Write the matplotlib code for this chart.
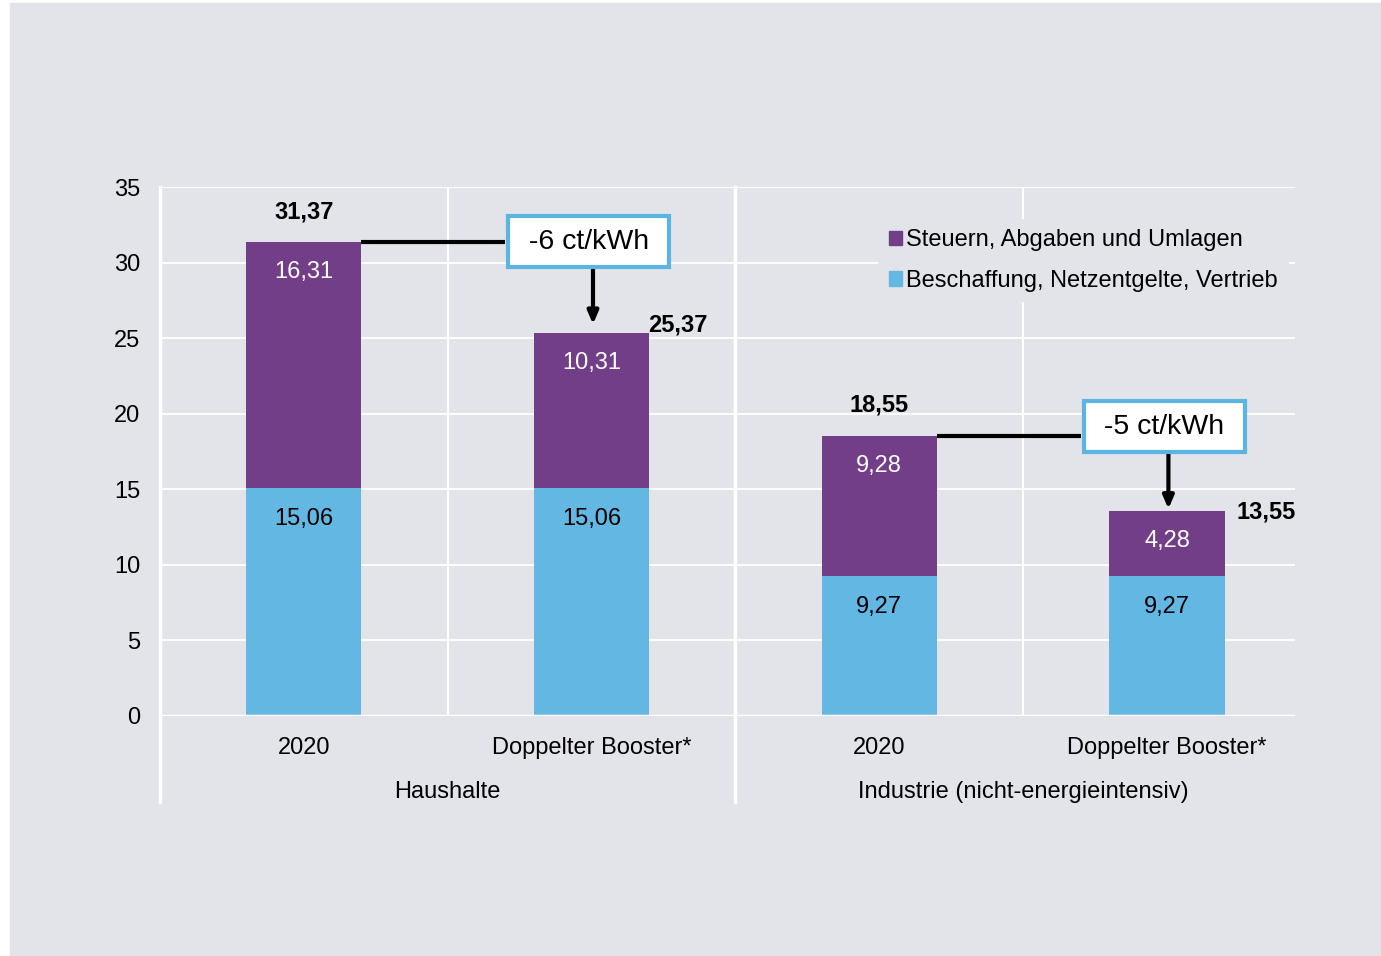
import matplotlib.pyplot as plt
from matplotlib.patches import Patch, Rectangle
from matplotlib.lines import Line2D

plt.rcParams['font.family'] = ['Liberation Sans', 'DejaVu Sans']

categories = ["2020", "Doppelter Booster*", "2020", "Doppelter Booster*"]
groups = ["Haushalte", "Industrie (nicht-energieintensiv)"]
beschaffung = [15.06, 15.06, 9.27, 9.27]
steuern = [16.31, 10.31, 9.28, 4.28]
totals = [31.37, 25.37, 18.55, 13.55]
savings = ["-6 ct/kWh", "-5 ct/kWh"]

purple = "#723e88"
blue = "#63b8e3"
bg = "#e3e4e9"
box_edge = "#5ab5e2"
fs = 17

fmt = lambda v: f"{v:.2f}".replace(".", ",")

fig = plt.figure(figsize=(13.81, 9.56), dpi=100)
fig.patch.set_facecolor("white")
fig.patches.append(Rectangle((10 / 1381, 0), 1 - 10 / 1381, 953 / 956,
                             transform=fig.transFigure, color=bg, zorder=-10))

ax = fig.add_axes([160 / 1381, 240 / 956, (1295 - 160) / 1381, 529 / 956])
ax.patch.set_alpha(0)
for s in ax.spines.values():
    s.set_visible(False)

x = list(range(len(categories)))
w = 0.4
ax.bar(x, beschaffung, width=w, color=blue, zorder=3)
ax.bar(x, steuern, width=w, bottom=beschaffung, color=purple, zorder=3)

ax.set_xlim(-0.5, 3.445)
ax.set_ylim(0, 35)
ax.set_yticks(range(0, 36, 5))
ax.tick_params(axis="y", length=0, pad=14, labelsize=fs)
ax.set_xticks(x)
ax.set_xticklabels(categories)
ax.tick_params(axis="x", length=0, pad=15, labelsize=fs)

for yv in range(5, 36, 5):
    ax.axhline(yv, color="white", lw=1.3, zorder=1)
ax.axhline(0, color="white", lw=2.5, zorder=4)
for xv in [0.5, 1.5, 2.5]:
    ax.axvline(xv, color="white", lw=1.5, zorder=1)

trans = ax.get_xaxis_transform()
ext = -(802 - 716) / 529
for xv in [-0.5, 1.5]:
    ax.add_line(Line2D([xv, xv], [1, ext], transform=trans, color="white",
                       lw=2.5, clip_on=False, zorder=1))

for i, g in enumerate(groups):
    ax.text(2 * i + 0.5, -(792 - 716) / 529, g, transform=trans, ha="center",
            va="center", fontsize=fs)

# segment labels
for i in x:
    ax.text(i, beschaffung[i] - 2.05, fmt(beschaffung[i]), ha="center",
            va="center", fontsize=fs, color="black", zorder=5)
    ax.text(i, totals[i] - 2.0, fmt(steuern[i]), ha="center", va="center",
            fontsize=fs, color="white", zorder=5)

# totals
booster_dx = [-0.005, 0.04]
booster_dy = [-0.26, -0.8]
for i in x:
    if i % 2 == 0:
        ax.text(i, totals[i] + 2.0, fmt(totals[i]), ha="center", va="center",
                fontsize=fs, fontweight="bold", zorder=5)
    else:
        k = i // 2
        ax.text(i + w / 2 + booster_dx[k], totals[i] + booster_dy[k],
                fmt(totals[i]), ha="left", va="bottom", fontsize=fs,
                fontweight="bold", zorder=5)

# savings callouts
box_dy = [0.0, 0.6]
for k, label in enumerate(savings):
    i0, i1 = 2 * k, 2 * k + 1
    yb = totals[i0] + box_dy[k]
    ax.plot([i0 + w / 2, i1 - 0.3], [totals[i0], totals[i0]], color="black",
            lw=3, zorder=5, solid_capstyle="butt")
    ax.annotate("", xy=(i1 + 0.005, yb - 1.8 - 3.65),
                xytext=(i1 + 0.005, yb - 1.7),
                arrowprops=dict(arrowstyle="-|>,head_length=0.75,head_width=0.32",
                                color="black", lw=3, shrinkA=0, shrinkB=0),
                zorder=5)
    ax.text(i1 - 0.01, yb, " " + label + " ", ha="center",
            va="center", fontsize=20.5, zorder=6,
            bbox=dict(boxstyle="square,pad=0.44", fc="white", ec=box_edge, lw=3))

handles = [Patch(color=purple, label="Steuern, Abgaben und Umlagen"),
           Patch(color=blue, label="Beschaffung, Netzentgelte, Vertrieb")]
leg = ax.legend(handles=handles, loc="upper left", bbox_to_anchor=(0.6326, 0.94),
                frameon=True, fancybox=False, fontsize=fs, handlelength=0.55,
                handleheight=0.55, handletextpad=0.2, labelspacing=0.78,
                borderpad=0.45, borderaxespad=0)
leg.get_frame().set_facecolor(bg)
leg.get_frame().set_edgecolor("none")
leg.get_frame().set_alpha(1)
leg.set_zorder(5)

fig.savefig("out.png", dpi=100, facecolor=fig.get_facecolor())
